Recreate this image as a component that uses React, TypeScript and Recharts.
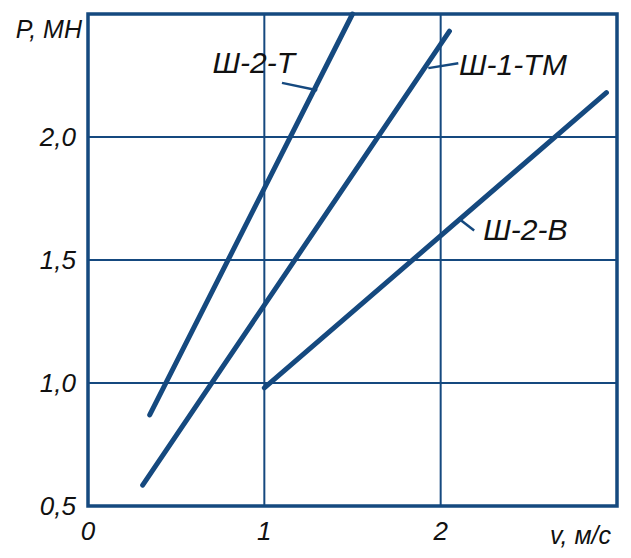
import {
  CartesianGrid,
  Line,
  LineChart,
  ReferenceArea,
  ReferenceDot,
  ReferenceLine,
  XAxis,
  YAxis,
} from "recharts"

const INK = "#15497f"
const TEXT = "#111111"
const FONT = "'Liberation Sans', Arial, sans-serif"

// скорость v, м/с и усилие P, МН — концы прямых
const sh2t = [
  { v: 0.35, p: 0.87 },
  { v: 1.5, p: 2.5 },
]
const sh1tm = [
  { v: 0.31, p: 0.585 },
  { v: 2.05, p: 2.43 },
]
const sh2v = [
  { v: 1.0, p: 0.98 },
  { v: 2.94, p: 2.18 },
]

const xTicks = [0, 1, 2, 3]
const yTicks = [0.5, 1.0, 1.5, 2.0, 2.5]

// подписи кривых: точка текста и выноска
const notes = [
  { name: "Ш-2-Т", at: [0.94, 2.305], leader: [[1.1, 2.22], [1.3, 2.19]] },
  { name: "Ш-1-ТМ", at: [2.41, 2.297], leader: [[1.93, 2.28], [2.1, 2.3]] },
  { name: "Ш-2-В", at: [2.48, 1.626], leader: [[2.1, 1.67], [2.19, 1.62]] },
]

const tickStyle = {
  fontSize: 26,
  fontStyle: "italic",
  fill: TEXT,
  fontFamily: FONT,
}

const fmtY = (v: number) => (v >= 2.5 ? "" : v.toFixed(1).replace(".", ","))
const fmtX = (v: number) => (v >= 3 ? "" : String(v))

export default function App() {
  const series = [sh2t, sh1tm, sh2v]
  return (
    <div style={{ position: "absolute", left: 0, top: 0, background: "#fff" }}>
      <LineChart width={631} height={558} margin={{ top: 14, right: 14, bottom: 8, left: 8 }}>
        <CartesianGrid stroke={INK} strokeWidth={2} />
        <XAxis
          dataKey="v"
          type="number"
          domain={[0, 3]}
          ticks={xTicks}
          tickFormatter={fmtX}
          axisLine={false}
          tickLine={false}
          tick={tickStyle}
          tickMargin={10}
          height={44}
          label={{
            value: "v, м/с",
            position: "insideBottomRight",
            offset: 6,
            style: { ...tickStyle, fontSize: 25 },
          }}
        />
        <YAxis
          dataKey="p"
          type="number"
          domain={[0.5, 2.5]}
          ticks={yTicks}
          tickFormatter={fmtY}
          axisLine={false}
          tickLine={false}
          tick={tickStyle}
          tickMargin={6}
          width={80}
          label={{
            value: "P, МН",
            position: "insideTopRight",
            offset: 6,
            style: { ...tickStyle, fontSize: 25 },
          }}
        />
        <ReferenceArea
          x1={0}
          x2={3}
          y1={0.5}
          y2={2.5}
          fill="none"
          fillOpacity={0}
          stroke={INK}
          strokeWidth={3.5}
        />
        {series.map((d, i) => (
          <Line
            key={i}
            data={d}
            dataKey="p"
            type="linear"
            stroke={INK}
            strokeWidth={5}
            strokeLinecap="round"
            dot={false}
            activeDot={false}
            isAnimationActive={false}
          />
        ))}
        {notes.map((n) => (
          <ReferenceLine
            key={n.name + "-l"}
            segment={[
              { x: n.leader[0][0], y: n.leader[0][1] },
              { x: n.leader[1][0], y: n.leader[1][1] },
            ]}
            stroke={INK}
            strokeWidth={2.5}
          />
        ))}
        {notes.map((n) => (
          <ReferenceDot
            key={n.name}
            x={n.at[0]}
            y={n.at[1]}
            r={0}
            stroke="none"
            fill="none"
            label={{
              value: n.name,
              position: "center",
              style: { ...tickStyle, fontSize: 30 },
            }}
          />
        ))}
      </LineChart>
    </div>
  )
}
